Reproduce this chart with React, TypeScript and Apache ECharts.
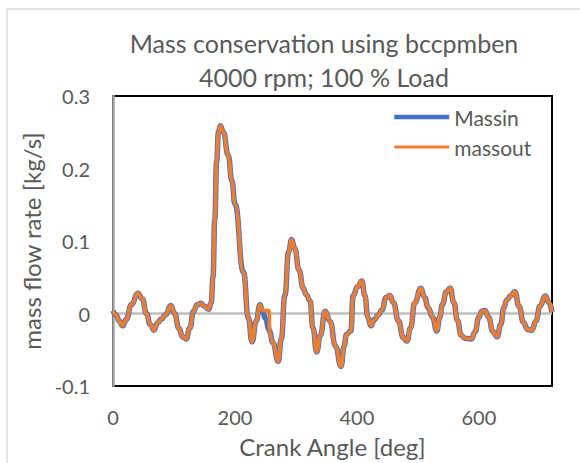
import React, { useEffect, useRef } from "react";
import * as echarts from "echarts";

const crankAngle = [
  0, 5, 10, 16, 22, 30, 41, 48, 55, 61, 67, 73, 79, 86, 95, 101, 108, 114, 120, 126,
  132, 138, 144, 150, 157, 161, 164, 167, 170, 173, 176, 181, 189, 195, 200, 214, 222, 228,
  235, 241, 245, 250, 256, 257, 262, 271, 276, 282, 288, 293, 298, 305, 312, 317, 323, 328,
  334, 340, 348, 356, 365, 374, 379, 383, 390, 394, 401, 408, 413, 418, 423, 429, 435, 441,
  448, 454, 460, 468, 476, 482, 488, 495, 505, 511, 517, 524, 531, 536, 540, 547, 553, 559,
  565, 571, 577, 588, 594, 600, 605, 610, 616, 623, 630, 636, 641, 646, 653, 659, 666, 673,
  680, 687, 694, 700, 709, 715, 720,
];

const massin = [
  0.004, -0.002, -0.01, -0.017, -0.008, 0.012, 0.028, 0.02, 0.0, -0.015, -0.023, -0.013, -0.008, -0.002, 0.011, 0.0, -0.02, -0.032, -0.035, -0.02,
  0.003, 0.012, 0.014, 0.01, 0.006, 0.015, 0.05, 0.13, 0.21, 0.25, 0.259, 0.25, 0.218, 0.183, 0.151, 0.057, -0.006, -0.039,
  -0.01, 0.012, 0.004, -0.007, -0.022, -0.025, -0.04, -0.066, -0.035, 0.025, 0.085, 0.102, 0.09, 0.06, 0.035, 0.026, 0.018, -0.02,
  -0.053, -0.03, 0.003, -0.011, -0.045, -0.073, -0.045, -0.029, -0.024, 0.025, 0.037, 0.045, 0.025, -0.005, -0.017, -0.008, -0.002, 0.005,
  0.022, 0.025, 0.015, -0.01, -0.033, -0.038, -0.02, 0.015, 0.035, 0.022, 0.008, -0.005, -0.024, -0.005, 0.012, 0.03, 0.035, 0.015,
  -0.01, -0.03, -0.034, -0.035, -0.025, -0.005, 0.003, 0.004, -0.005, -0.025, -0.032, -0.015, 0.008, 0.019, 0.025, 0.03, 0.01, -0.012,
  -0.022, -0.023, -0.01, 0.01, 0.024, 0.015, 0.002,
];

const massout = [
  0.004, -0.002, -0.01, -0.017, -0.008, 0.012, 0.028, 0.02, 0.0, -0.015, -0.023, -0.013, -0.008, -0.002, 0.011, 0.0, -0.02, -0.032, -0.035, -0.02,
  0.003, 0.012, 0.014, 0.01, 0.006, 0.015, 0.05, 0.13, 0.21, 0.25, 0.259, 0.25, 0.218, 0.183, 0.151, 0.057, -0.006, -0.039,
  -0.01, 0.012, 0.005, 0.004, 0.004, -0.027, -0.04, -0.066, -0.035, 0.025, 0.085, 0.102, 0.09, 0.06, 0.035, 0.026, 0.018, -0.02,
  -0.053, -0.03, 0.003, -0.011, -0.045, -0.073, -0.045, -0.029, -0.024, 0.025, 0.037, 0.045, 0.025, -0.005, -0.017, -0.008, -0.002, 0.005,
  0.022, 0.025, 0.015, -0.01, -0.033, -0.038, -0.02, 0.015, 0.035, 0.022, 0.008, -0.005, -0.024, -0.005, 0.012, 0.03, 0.035, 0.015,
  -0.01, -0.03, -0.034, -0.035, -0.025, -0.005, 0.003, 0.004, -0.005, -0.025, -0.032, -0.015, 0.008, 0.019, 0.025, 0.03, 0.01, -0.012,
  -0.022, -0.023, -0.01, 0.01, 0.024, 0.015, 0.002,
];

const xTicks = [0, 200, 400, 600];
const yTicks = [-0.1, 0, 0.1, 0.2, 0.3];

const FONT = "Lato, 'Liberation Sans', sans-serif";
const TEXT = "#595959";

export default function App() {
  const ref = useRef<HTMLDivElement>(null);
  useEffect(() => {
    if (!ref.current) return;
    const chart = echarts.init(ref.current, undefined, { renderer: "svg" });
    const pairs = (ys: number[]) => crankAngle.map((x, i) => [x, ys[i]]);
    chart.setOption({
      animation: false,
      textStyle: { fontFamily: FONT },
      graphic: [
        {
          type: "rect",
          shape: { x: 7, y: 9, width: 700, height: 700 },
          style: { fill: "none", stroke: "#d9d9d9", lineWidth: 1.5 },
          z: -1,
        },
      ],
      title: {
        text: "Mass conservation using bccpmben\n4000 rpm; 100 % Load",
        left: 319,
        top: 21,
        textAlign: "center",
        textStyle: {
          fontFamily: FONT,
          fontSize: 25,
          fontWeight: "normal",
          color: TEXT,
          lineHeight: 34,
        },
      },
      legend: {
        orient: "vertical",
        left: 392,
        top: 106,
        itemWidth: 55,
        itemHeight: 14,
        itemGap: 8,
        padding: 0,
        itemStyle: { opacity: 0 },
        data: [
          { name: "Massin", lineStyle: { width: 4.5 } },
          { name: "massout", lineStyle: { width: 2.8 } },
        ],
        textStyle: { fontFamily: FONT, fontSize: 21, color: TEXT, lineHeight: 22 },
      },
      grid: {
        left: 113,
        top: 96,
        width: 439,
        height: 297,
        show: true,
        borderColor: "#000",
        borderWidth: 2,
        backgroundColor: "transparent",
      },
      xAxis: {
        type: "value",
        min: 0,
        max: 720,
        interval: 200,
        name: "Crank Angle [deg]",
        nameLocation: "middle",
        nameGap: 48,
        nameTextStyle: { fontFamily: FONT, fontSize: 24, color: TEXT },
        axisLine: { show: false },
        axisTick: { show: false },
        splitLine: { show: false },
        axisLabel: {
          fontFamily: FONT,
          fontSize: 20,
          color: TEXT,
          margin: 21,
          showMaxLabel: false,
          formatter: (v: number) => (xTicks.includes(v) ? String(v) : ""),
        },
      },
      yAxis: {
        type: "value",
        min: -0.1,
        max: 0.3,
        interval: 0.1,
        name: "mass flow rate [kg/s]",
        nameLocation: "middle",
        nameRotate: 90,
        nameGap: 64,
        nameTextStyle: { fontFamily: FONT, fontSize: 24, color: TEXT },
        axisLine: { show: true, onZero: false, lineStyle: { color: "#a6a6a6", width: 2.5 } },
        axisTick: { show: false },
        splitLine: { show: false },
        axisLabel: {
          fontFamily: FONT,
          fontSize: 20,
          color: TEXT,
          margin: 23,
          formatter: (v: number) => {
            const r = Math.round(v * 10) / 10;
            return yTicks.includes(r) ? String(r) : "";
          },
        },
      },
      series: [
        {
          name: "zero",
          type: "line",
          data: [
            [0, 0],
            [720, 0],
          ],
          symbol: "none",
          silent: true,
          z: 1,
          lineStyle: { color: "#bfbfbf", width: 2.5 },
          itemStyle: { color: "#bfbfbf" },
        },
        {
          name: "Massin",
          type: "line",
          data: pairs(massin),
          symbol: "none",
          smooth: 0.5,
          smoothMonotone: "x",
          z: 2,
          lineStyle: { color: "#4472C4", width: 5.5 },
          itemStyle: { color: "#4472C4" },
        },
        {
          name: "massout",
          type: "line",
          data: pairs(massout),
          symbol: "none",
          smooth: 0.5,
          smoothMonotone: "x",
          z: 3,
          lineStyle: { color: "#ED7D31", width: 3.8 },
          itemStyle: { color: "#ED7D31" },
        },
      ],
    });
    return () => chart.dispose();
  }, []);
  return (
    <div
      ref={ref}
      style={{ position: "absolute", left: 0, top: 0, width: 580, height: 463, background: "#fff" }}
    />
  );
}
